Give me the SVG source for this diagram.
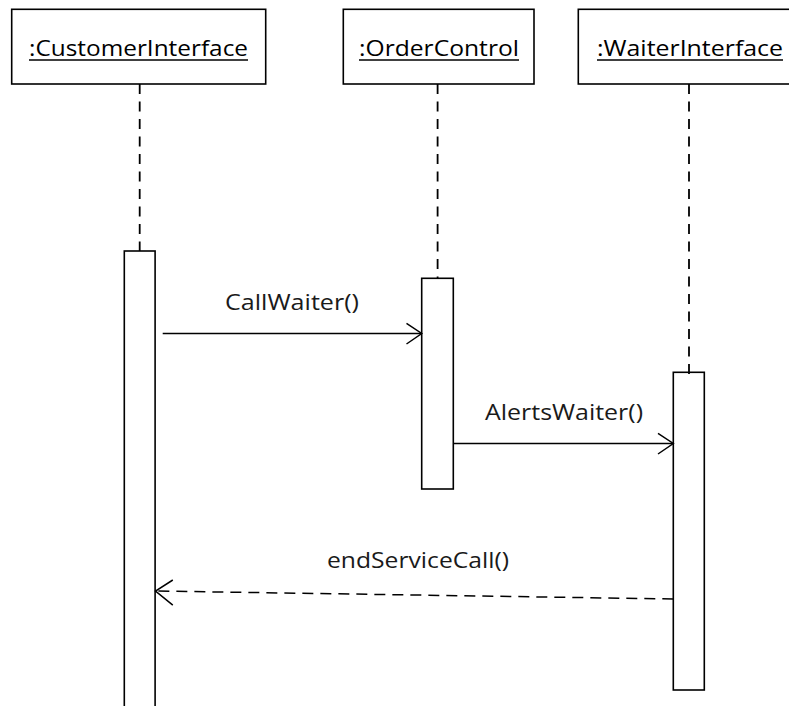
<svg xmlns="http://www.w3.org/2000/svg" width="789" height="706" viewBox="0 0 789 706">
  <style>
    .box { fill: #ffffff; stroke: #000000; stroke-width: 1.6; }
    .life { fill: none; stroke: #000000; stroke-width: 1.8; stroke-dasharray: 10 7.5; }
    .name { font-family: "Open Sans", "Liberation Sans", sans-serif; font-size: 21px; fill: #000000; text-anchor: start; }
    .uline { stroke: #000000; stroke-width: 1.5; }
    .msg { fill: none; stroke: #000000; stroke-width: 1.5; }
    .ret { fill: none; stroke: #000000; stroke-width: 1.5; stroke-dasharray: 11 7; }
    .head { fill: none; stroke: #000000; stroke-width: 1.5; stroke-linejoin: miter; }
    .label { font-family: "Open Sans", "Liberation Sans", sans-serif; font-size: 22px; fill: #1a1a1a; }
  </style>
  <rect x="0" y="0" width="789" height="706" fill="#ffffff"/>

  <!-- Customer interface lifeline -->
  <g id="customer-interface">
    <rect class="box" x="11.7" y="9.3" width="254" height="74.7"/>
    <text class="name" x="29" y="56" textLength="219" lengthAdjust="spacingAndGlyphs">:CustomerInterface</text>
    <line class="uline" x1="29" y1="60" x2="248" y2="60"/>
    <line class="life" x1="139.7" y1="84" x2="139.7" y2="251"/>
    <rect class="box" x="124.3" y="251" width="30.8" height="470"/>
  </g>

  <!-- Order control lifeline -->
  <g id="order-control">
    <rect class="box" x="343.3" y="9.3" width="190.7" height="74.7"/>
    <text class="name" x="359" y="56" textLength="160" lengthAdjust="spacingAndGlyphs">:OrderControl</text>
    <line class="uline" x1="359" y1="60" x2="519" y2="60"/>
    <line class="life" x1="437.6" y1="84" x2="437.6" y2="278.3"/>
    <rect class="box" x="421.7" y="278.3" width="31.6" height="210.7"/>
  </g>

  <!-- Waiter interface lifeline -->
  <g id="waiter-interface">
    <rect class="box" x="578.3" y="9.3" width="222" height="74.7"/>
    <text class="name" x="597" y="56" textLength="186" lengthAdjust="spacingAndGlyphs">:WaiterInterface</text>
    <line class="uline" x1="597" y1="60" x2="783" y2="60"/>
    <rect class="box" x="673.3" y="372.3" width="31" height="317.7"/>
    <line class="life" x1="689" y1="84" x2="689" y2="379" stroke-dashoffset="0"/>
  </g>

  <!-- Messages -->
  <g id="connectors">
    <g id="msg-callwaiter">
      <line class="msg" x1="162.7" y1="333.5" x2="421.7" y2="333.5"/>
      <polyline class="head" points="406.5,323.3 421.7,333.5 406.5,344"/>
      <text class="label" x="225" y="310" textLength="134" lengthAdjust="spacingAndGlyphs">CallWaiter()</text>
    </g>
    <g id="msg-alertswaiter">
      <line class="msg" x1="453.3" y1="443.5" x2="673.3" y2="443.5"/>
      <polyline class="head" points="658,433.3 673.3,443.5 658,454"/>
      <text class="label" x="485" y="420" textLength="158" lengthAdjust="spacingAndGlyphs">AlertsWaiter()</text>
    </g>
    <g id="msg-endservicecall">
      <line class="ret" x1="673.3" y1="599" x2="155.5" y2="591"/>
      <polyline class="head" points="172.8,580 155.5,591 172.8,605.2"/>
      <text class="label" x="327" y="568" textLength="182" lengthAdjust="spacingAndGlyphs">endServiceCall()</text>
    </g>
  </g>
</svg>
